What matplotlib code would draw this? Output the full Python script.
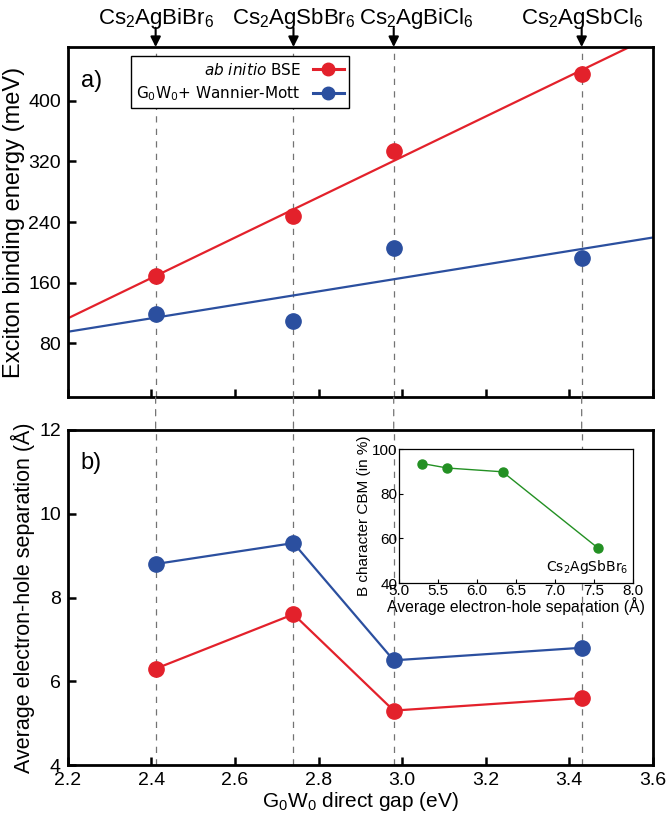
import matplotlib
matplotlib.use("Agg")
import matplotlib.pyplot as plt
import numpy as np
from matplotlib.patches import ConnectionPatch

plt.rcParams["font.family"] = ["Liberation Sans", "DejaVu Sans"]
plt.rcParams["mathtext.default"] = "regular"

# data
compounds = ["Cs$_2$AgBiBr$_6$", "Cs$_2$AgSbBr$_6$", "Cs$_2$AgBiCl$_6$", "Cs$_2$AgSbCl$_6$"]
gap_ev = [2.41, 2.74, 2.98, 3.43]
eb_bse = [169, 248, 334, 436]
eb_wannier = [118, 110, 206, 192]
sep_bse = [6.3, 7.6, 5.3, 5.6]
sep_wannier = [8.8, 9.3, 6.5, 6.8]
inset_sep = [5.30, 5.62, 6.33, 7.56]
inset_b_char = [93.5, 91.5, 89.8, 55.5]

RED = "#e3212b"
BLUE = "#2b4f9f"
GREEN = "#239023"
DASH = (0, (5, 5))

fig = plt.figure(figsize=(6.66, 8.17), dpi=100)
ax1 = fig.add_axes([0.102, 0.514, 0.878, 0.4284])
ax2 = fig.add_axes([0.102, 0.0636, 0.878, 0.4101])

for ax in (ax1, ax2):
    for s in ax.spines.values():
        s.set_linewidth(2.0)
    ax.tick_params(direction="in", length=6, width=1.8, labelsize=14, pad=5,
                   top=False, right=False)
    ax.set_xlim(2.2, 3.6)
    ax.set_xticks(np.arange(2.2, 3.61, 0.2))
    for x in gap_ev:
        ax.axvline(x, color="0.45", ls=DASH, lw=0.9, zorder=0)

# dashed lines through the gap between the panels
for x in gap_ev:
    cp = ConnectionPatch(xyA=(x, 0), coordsA=ax1.get_xaxis_transform(),
                         xyB=(x, 1), coordsB=ax2.get_xaxis_transform(),
                         color="0.45", ls=DASH, lw=0.9)
    fig.add_artist(cp)

# panel a)
xfit = np.array([2.2, 3.6])
for y, color, label in [(eb_bse, RED, r"$\mathit{ab\ initio}$ BSE"),
                        (eb_wannier, BLUE, "G$_0$W$_0$+ Wannier-Mott")]:
    p = np.polyfit(gap_ev, y, 1)
    ax1.plot(xfit, np.polyval(p, xfit), color=color, lw=1.6, zorder=2)
    ax1.plot(gap_ev, y, "o", color=color, ms=11, zorder=3)
    ax1.plot([], [], "-o", color=color, lw=2.2, ms=9, label=label)

ax1.set_ylim(9, 471)
ax1.set_yticks([80, 160, 240, 320, 400])
ax1.set_xticklabels([])
ax1.set_ylabel("Exciton binding energy (meV)", fontsize=17, labelpad=2)
ax1.text(0.022, 0.935, "a)", transform=ax1.transAxes, fontsize=17, va="top")
leg = ax1.legend(loc="upper left", bbox_to_anchor=(0.108, 0.974), borderaxespad=0,
                 markerfirst=False, fancybox=False, framealpha=1, edgecolor="k",
                 prop={"family": "DejaVu Sans", "size": 11}, handlelength=2.0,
                 labelspacing=0.45, borderpad=0.35)
leg.get_frame().set_linewidth(1.0)

# compound labels with arrows; the BiCl label is nudged right to clear its neighbour
label_shift = [0, 0, 16, 0]
for x, name, dx in zip(gap_ev, compounds, label_shift):
    ax1.annotate("", xy=(x, 1.0), xycoords=ax1.get_xaxis_transform(),
                 xytext=(x, 1.055), textcoords=ax1.get_xaxis_transform(),
                 arrowprops=dict(arrowstyle="-|>", color="k", lw=1.5,
                                 mutation_scale=15, shrinkA=0, shrinkB=0))
    ax1.annotate(name, xy=(x, 1.083), xycoords=ax1.get_xaxis_transform(),
                 xytext=(dx, 0), textcoords="offset points",
                 ha="center", va="center", fontsize=16)

# panel b)
ax2.plot(gap_ev, sep_wannier, "-o", color=BLUE, lw=1.6, ms=11, zorder=3)
ax2.plot(gap_ev, sep_bse, "-o", color=RED, lw=1.6, ms=11, zorder=3)
ax2.set_ylim(4, 12)
ax2.set_yticks([4, 6, 8, 10, 12])
ax2.set_xticklabels([f"{v:.1f}" for v in np.arange(2.2, 3.61, 0.2)])
ax2.set_ylabel("Average electron-hole separation (Å)", fontsize=15.5, labelpad=3)
ax2.set_xlabel("G$_0$W$_0$ direct gap (eV)", fontsize=15, labelpad=1)
ax2.text(0.022, 0.935, "b)", transform=ax2.transAxes, fontsize=17, va="top")

# inset
axin = fig.add_axes([0.599, 0.2864, 0.351, 0.164])
axin.plot(inset_sep, inset_b_char, "-o", color=GREEN, lw=1.0, ms=6.5)
axin.set_xlim(5, 8)
axin.set_ylim(40, 100)
axin.set_xticks(np.arange(5.0, 8.01, 0.5))
axin.set_yticks([40, 60, 80, 100])
axin.tick_params(direction="in", length=3, width=0.8, labelsize=11, pad=1)
for s in axin.spines.values():
    s.set_linewidth(0.9)
axin.set_xlabel("Average electron-hole separation (Å)", fontsize=11.3, labelpad=-1)
axin.set_ylabel("B character CBM (in %)", fontsize=11, labelpad=1)
axin.text(7.95, 43, "Cs$_2$AgSbBr$_6$", ha="right", va="bottom", fontsize=10,
          family="DejaVu Sans")

fig.savefig("out.png", dpi=100)
